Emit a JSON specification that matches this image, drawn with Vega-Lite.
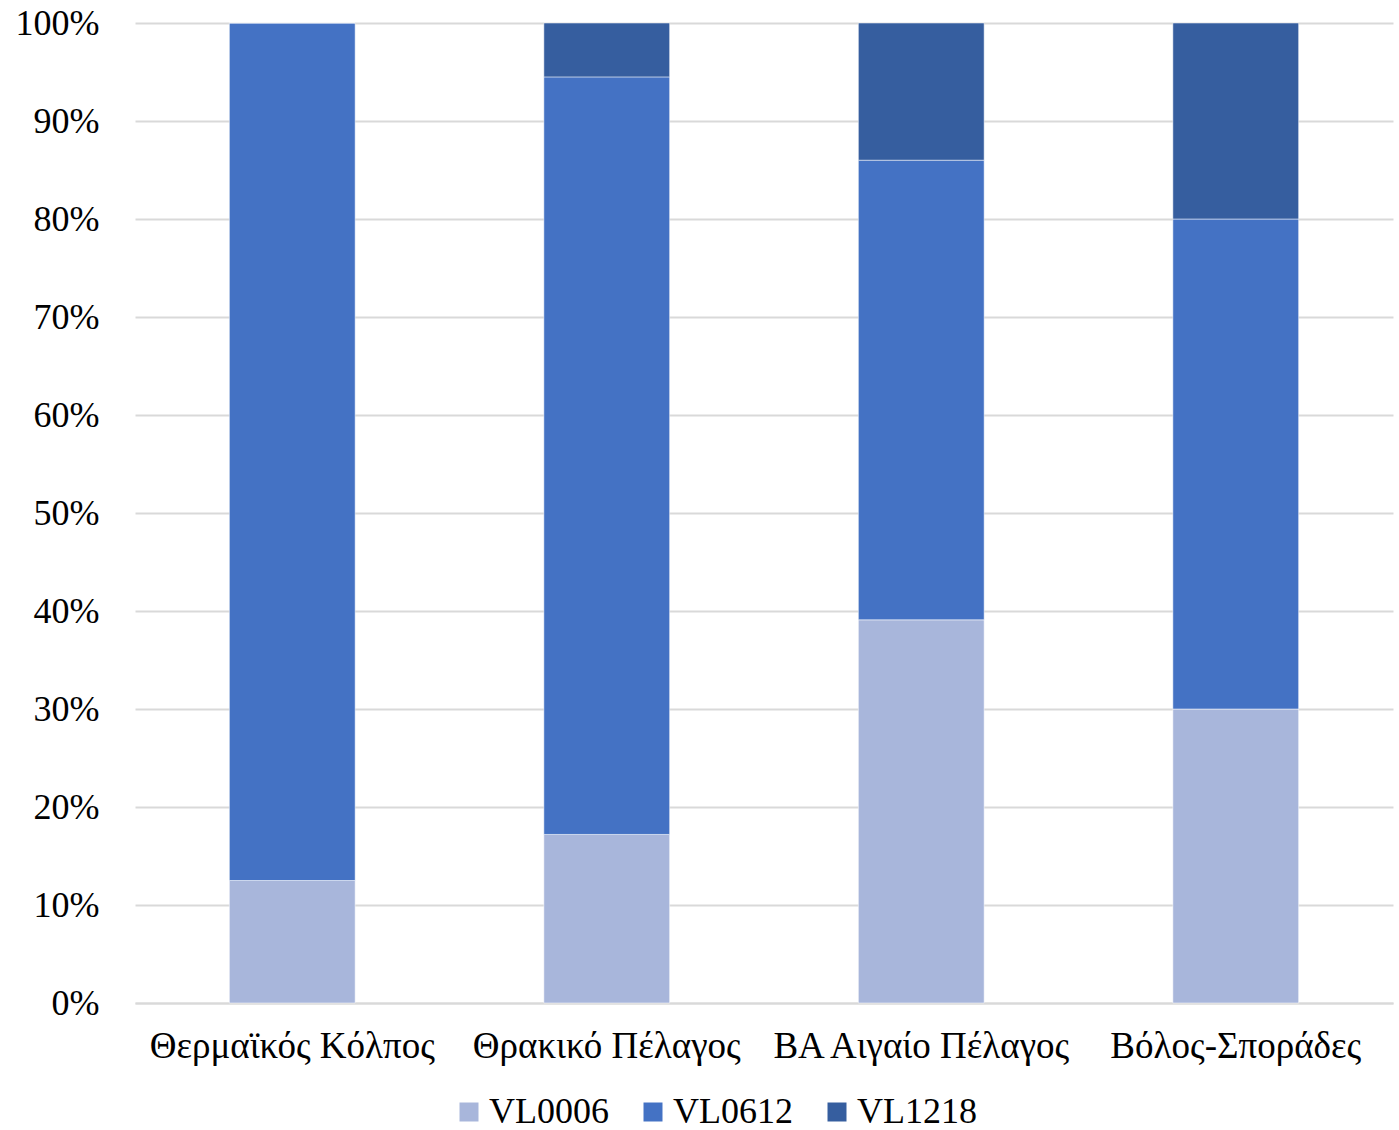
{
  "$schema": "https://vega.github.io/schema/vega-lite/v6.json",
  "width": 1258,
  "height": 980,
  "autosize": {"type": "none"},
  "padding": {"left": 135, "top": 23, "right": 6, "bottom": 127},
  "background": "white",
  "config": {
    "font": "Liberation Serif",
    "view": {"stroke": null}
  },
  "data": {
    "values": [
      {"area": "Θερμαϊκός Κόλπος", "class": "VL0006", "share": 12.5},
      {"area": "Θερμαϊκός Κόλπος", "class": "VL0612", "share": 87.5},
      {"area": "Θερμαϊκός Κόλπος", "class": "VL1218", "share": 0},
      {"area": "Θρακικό Πέλαγος", "class": "VL0006", "share": 17.2},
      {"area": "Θρακικό Πέλαγος", "class": "VL0612", "share": 77.3},
      {"area": "Θρακικό Πέλαγος", "class": "VL1218", "share": 5.5},
      {"area": "ΒΑ Αιγαίο Πέλαγος", "class": "VL0006", "share": 39.1},
      {"area": "ΒΑ Αιγαίο Πέλαγος", "class": "VL0612", "share": 46.9},
      {"area": "ΒΑ Αιγαίο Πέλαγος", "class": "VL1218", "share": 14.0},
      {"area": "Βόλος-Σποράδες", "class": "VL0006", "share": 30},
      {"area": "Βόλος-Σποράδες", "class": "VL0612", "share": 50},
      {"area": "Βόλος-Σποράδες", "class": "VL1218", "share": 20}
    ]
  },
  "mark": {"type": "bar", "stroke": "white", "strokeWidth": 1, "strokeOpacity": 0.5},
  "encoding": {
    "x": {
      "field": "area",
      "type": "nominal",
      "sort": null,
      "scale": {"paddingInner": 0.6, "paddingOuter": 0.3},
      "axis": {
        "title": null,
        "labelAngle": 0,
        "labelFontSize": 37,
        "labelLimit": 0,
        "labelColor": "black",
        "labelPadding": 25,
        "ticks": false,
        "domain": true,
        "domainColor": "#D9D9D9",
        "domainWidth": 2
      }
    },
    "y": {
      "field": "share",
      "type": "quantitative",
      "stack": "normalize",
      "scale": {"domain": [0, 1], "nice": false},
      "axis": {
        "title": null,
        "format": ".0%",
        "values": [0, 0.1, 0.2, 0.3, 0.4, 0.5, 0.6, 0.7, 0.8, 0.9, 1],
        "labelFontSize": 36,
        "labelColor": "black",
        "labelPadding": 36,
        "ticks": false,
        "domain": false,
        "grid": true,
        "gridColor": "#D9D9D9",
        "gridWidth": 2
      }
    },
    "color": {
      "field": "class",
      "type": "nominal",
      "scale": {
        "domain": ["VL0006", "VL0612", "VL1218"],
        "range": ["#A8B6DB", "#4472C4", "#365E9F"]
      },
      "legend": {
        "title": null,
        "orient": "none",
        "direction": "horizontal",
        "legendX": 316,
        "legendY": 1071,
        "symbolType": "square",
        "symbolSize": 361,
        "symbolStrokeWidth": 0,
        "labelFontSize": 36,
        "labelColor": "black",
        "labelOffset": 2,
        "columnPadding": 26
      }
    },
    "order": {"field": "class", "sort": "ascending"}
  }
}
